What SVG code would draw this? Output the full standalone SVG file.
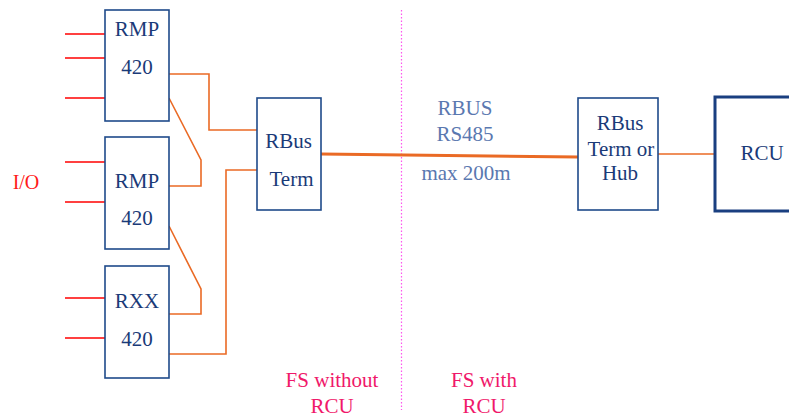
<svg xmlns="http://www.w3.org/2000/svg" width="789" height="419" viewBox="0 0 789 419">
<style>
.box{fill:#fff;stroke:#1f4a8a;stroke-width:1.6}
.thick{fill:#fff;stroke:#1a3f80;stroke-width:3}
.io{stroke:#ff0000;stroke-width:1.6;fill:none}
.or{stroke:#ea6a25;stroke-width:1.6;fill:none}
</style>
<line x1="401.5" y1="10" x2="401.5" y2="410" stroke="#ff55ee" stroke-width="1.2" stroke-dasharray="1.5,2"/>
<g id="io-lines">
<line class="io" x1="65" y1="34" x2="105" y2="34"/>
<line class="io" x1="65" y1="58" x2="105" y2="58"/>
<line class="io" x1="65" y1="98" x2="105" y2="98"/>
<line class="io" x1="65" y1="162" x2="105" y2="162"/>
<line class="io" x1="65" y1="202" x2="105" y2="202"/>
<line class="io" x1="65" y1="298" x2="105" y2="298"/>
<line class="io" x1="65" y1="338" x2="105" y2="338"/>
</g>
<g id="connectors">
<polyline class="or" points="169,74 209,74 209,130 257,130"/>
<polyline class="or" points="169,98 201,160 201,186 169,186"/>
<polyline class="or" points="257,170 226,170 226,354 169,354"/>
<polyline class="or" points="169,226 201,289 201,314 169,314"/>
<line x1="321" y1="154" x2="578" y2="157" stroke="#ea6a25" stroke-width="3"/>
<line class="or" x1="658" y1="154" x2="714" y2="154"/>
</g>
<g font-family="Liberation Serif, serif" font-size="21" fill="#1a3a78" text-anchor="middle">
<g id="rmp1"><rect class="box" x="105" y="10" width="64" height="111"/><text x="137" y="36">RMP</text><text x="137" y="74">420</text></g>
<g id="rmp2"><rect class="box" x="105" y="137" width="64" height="112"/><text x="137" y="188">RMP</text><text x="137" y="225">420</text></g>
<g id="rxx"><rect class="box" x="105" y="266" width="64" height="112"/><text x="137" y="308">RXX</text><text x="137" y="346">420</text></g>
<g id="rbus-term"><rect class="box" x="257" y="98" width="64" height="112"/><text x="288.5" y="148">RBus</text><text x="291.5" y="186">Term</text></g>
<g id="rbus-hub"><rect class="box" x="578" y="98" width="80" height="112"/><text x="620" y="130">RBus</text><text x="621" y="156">Term or</text><text x="620" y="180">Hub</text></g>
<g id="rcu"><rect class="thick" x="715" y="97" width="90" height="114"/><text x="762" y="160">RCU</text></g>
</g>
<g id="labels" font-family="Liberation Serif, serif" text-anchor="middle" font-size="21">
<text x="26" y="189" font-size="20" fill="#ff1a1a">I/O</text>
<text x="465" y="115" fill="#5a78b0">RBUS</text>
<text x="465" y="141" fill="#5a78b0">RS485</text>
<text x="466" y="180" fill="#5a78b0">max 200m</text>
<text x="332" y="387" fill="#f0186a">FS without</text>
<text x="332" y="413" fill="#f0186a">RCU</text>
<text x="484" y="387" fill="#f0186a">FS with</text>
<text x="484" y="413" fill="#f0186a">RCU</text>
</g>
</svg>
